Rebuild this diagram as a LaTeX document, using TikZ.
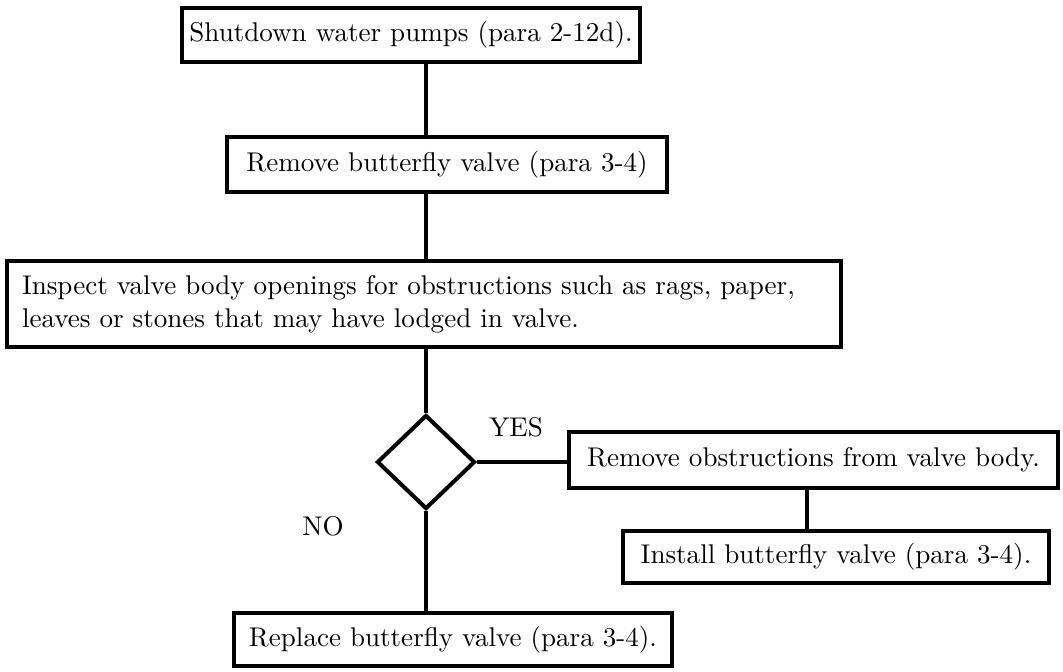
\documentclass[tikz,border=0pt]{standalone}
\usepackage{fontspec}
\setmainfont{lmroman10-regular.otf}
\usetikzlibrary{shapes.geometric}
\begin{document}
\begin{tikzpicture}[x=0.75pt,y=-0.75pt,
  every node/.style={font=\fontsize{20.3}{24.5}\selectfont},
  stepbox/.style={draw,line width=2.5pt,inner sep=0pt,align=center},
  conn/.style={line width=2.3pt},
  lbl/.style={inner sep=0pt}]
\useasboundingbox (0,0) rectangle (1063,671);
\node[stepbox,minimum width=343.5pt,minimum height=40.5pt] (b1) at (411,35) {Shutdown water pumps (para 2-12d).};
\node[stepbox,minimum width=330pt,minimum height=41.25pt] (b2) at (447,164.5) {Remove butterfly valve (para 3-4)};
\node[stepbox,text width=603pt,inner xsep=11.25pt,minimum height=64.5pt,align=left] (b3) at (424,304) {Inspect valve body openings for obstructions such as rags, paper,\\leaves or stones that may have lodged in valve.};
\node[draw,diamond,line width=3pt,inner sep=0pt,minimum width=73.5pt,minimum height=70.5pt] (d) at (426,462) {};
\node[stepbox,minimum width=366.75pt,minimum height=42pt] (b4) at (813.5,460) {Remove obstructions from valve body.};
\node[stepbox,minimum width=319.5pt,minimum height=39pt] (b5) at (836,557) {Install butterfly valve (para 3-4).};
\node[stepbox,minimum width=328.5pt,minimum height=39.75pt] (b6) at (453,639.5) {Replace butterfly valve (para 3-4).};
\node[lbl] (yes) at (516,427) {YES};
\node[lbl] (no) at (323,526) {NO};
\coordinate (k) at (807,0);
\draw[conn] (b1.south -| d.north) -- (b2.north -| d.north);
\draw[conn] (b2.south -| d.north) -- (b3.north -| d.north);
\draw[conn] (b3.south -| d.north) -- (d.north);
\draw[conn] (d.south) -- (b6.north -| d.south);
\draw[conn] (d.east) -- (d.east -| b4.west);
\draw[conn] (b4.south -| k) -- (b5.north -| k);
\end{tikzpicture}
\end{document}
